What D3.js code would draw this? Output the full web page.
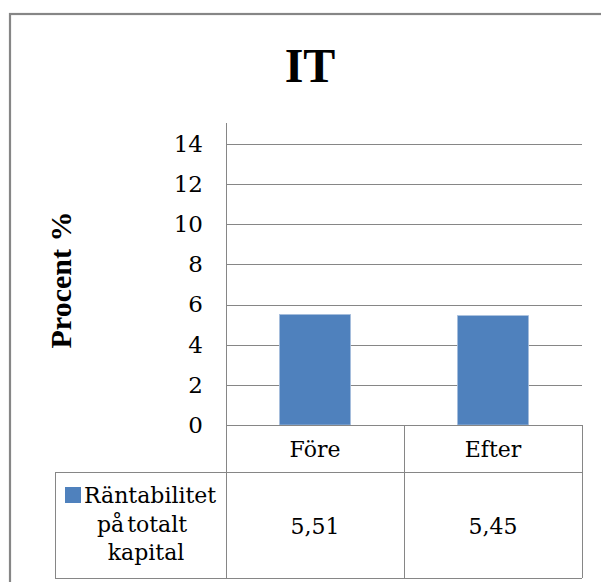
<!DOCTYPE html>
<html>
<head>
<meta charset="utf-8">
<script src="https://cdn.jsdelivr.net/npm/d3@7"></script>
<style>
  html, body { margin: 0; padding: 0; background: #fff; }
  svg { display: block; }
  text { font-family: "DejaVu Serif", serif; fill: #000; }
  text.heavy { font-family: "Liberation Serif", "DejaVu Serif", serif; font-weight: bold; }
</style>
</head>
<body>
<script>
// Chart data
const title = "IT";
const yLabel = "Procent %";
const categories = ["Före", "Efter"];
const seriesName = ["Räntabilitet", "på totalt", "kapital"];
const values = [5.51, 5.45];
const valueLabels = ["5,51", "5,45"];
const yTicks = [0, 2, 4, 6, 8, 10, 12, 14];

const W = 601, H = 582;
const barColor = "#4F81BD";
const lineColor = "#868686";
const serif = "DejaVu Serif, serif";

const svg = d3.select("body").append("svg")
  .attr("width", W).attr("height", H);

// Outer chart frame (runs past the right and bottom edges)
svg.append("rect")
  .attr("x", 10).attr("y", 14)
  .attr("width", 620).attr("height", 600)
  .attr("fill", "#fff")
  .attr("stroke", lineColor).attr("stroke-width", 2.2);

// Title
svg.append("text").attr("class", "heavy")
  .attr("x", 310).attr("y", 82)
  .attr("text-anchor", "middle")
  .attr("font-size", 48)
  .text(title);

// Plot geometry
const plotLeft = 226, plotRight = 582, plotTop = 123, zeroY = 425;
const y = d3.scaleLinear().domain([0, 14]).range([zeroY, 144]);
const x = d3.scaleBand().domain(categories).range([plotLeft, plotRight])
  .paddingInner(0.6).paddingOuter(0.3);
const xCell = d3.scaleBand().domain(categories).range([plotLeft, plotRight]);

// Gridlines
svg.append("g").selectAll("line").data(yTicks).join("line")
  .attr("x1", plotLeft).attr("x2", plotRight)
  .attr("y1", d => Math.round(y(d)) + 0.5).attr("y2", d => Math.round(y(d)) + 0.5)
  .attr("stroke", lineColor).attr("stroke-width", 1);

// Y axis with labels
const yAxis = d3.axisLeft(y).tickValues(yTicks).tickSize(0).tickPadding(23)
  .tickFormat(d3.format("d"));
const gy = svg.append("g").attr("transform", `translate(${plotLeft},0)`).call(yAxis);
gy.attr("font-family", serif);
gy.select(".domain").remove();
gy.selectAll("text")
  .attr("font-size", 23)
  .attr("font-family", serif)
  .attr("fill", "#000");

// Axis line
svg.append("line")
  .attr("x1", plotLeft + 0.5).attr("x2", plotLeft + 0.5)
  .attr("y1", plotTop).attr("y2", 578)
  .attr("stroke", lineColor).attr("stroke-width", 1);

// Y axis title
svg.append("text").attr("class", "heavy")
  .attr("transform", `translate(71,280) rotate(-90)`)
  .attr("text-anchor", "middle")
  .attr("font-size", 30)
  .text(yLabel);

// Bars
svg.append("g").selectAll("rect").data(values).join("rect")
  .attr("x", (d, i) => x(categories[i]))
  .attr("width", x.bandwidth())
  .attr("y", d => y(d))
  .attr("height", d => y(0) - y(d))
  .attr("fill", barColor)
  .attr("stroke", "#a9c0de").attr("stroke-width", 0.8);

// Data table
const rowDiv = 472, tableBottom = 578, legendLeft = 55;
const tbl = svg.append("g").attr("stroke", lineColor).attr("stroke-width", 1).attr("fill", "none");
// horizontal rules
tbl.append("line").attr("x1", plotLeft).attr("x2", plotRight).attr("y1", zeroY + 0.5).attr("y2", zeroY + 0.5);
tbl.append("line").attr("x1", legendLeft).attr("x2", plotRight).attr("y1", rowDiv + 0.5).attr("y2", rowDiv + 0.5);
tbl.append("line").attr("x1", legendLeft).attr("x2", plotRight).attr("y1", tableBottom + 0.5).attr("y2", tableBottom + 0.5);
// vertical rules
tbl.append("line").attr("x1", legendLeft + 0.5).attr("x2", legendLeft + 0.5).attr("y1", rowDiv).attr("y2", tableBottom);
categories.forEach(c => {
  const xr = Math.round(xCell(c) + xCell.bandwidth()) + 0.5;
  tbl.append("line").attr("x1", xr).attr("x2", xr).attr("y1", zeroY).attr("y2", tableBottom);
});

// Category headers
svg.append("g").selectAll("text").data(categories).join("text")
  .attr("x", d => xCell(d) + xCell.bandwidth() / 2)
  .attr("y", 457)
  .attr("text-anchor", "middle")
  .attr("font-size", 22)
  .text(d => d);

// Values row
svg.append("g").selectAll("text").data(valueLabels).join("text")
  .attr("x", (d, i) => xCell(categories[i]) + xCell.bandwidth() / 2)
  .attr("y", 534)
  .attr("text-anchor", "middle")
  .attr("font-size", 22)
  .text(d => d);

// Legend key and series name
svg.append("rect")
  .attr("x", 65).attr("y", 487).attr("width", 16).attr("height", 16)
  .attr("fill", barColor);
svg.append("text").attr("x", 84).attr("y", 503)
  .attr("font-size", 22).text(seriesName[0]);
svg.append("text").attr("x", 142).attr("y", 532)
  .attr("text-anchor", "middle").attr("font-size", 22)
  .attr("word-spacing", -4).text(seriesName[1]);
svg.append("text").attr("x", 146).attr("y", 560)
  .attr("text-anchor", "middle").attr("font-size", 22).text(seriesName[2]);
</script>
</body>
</html>
